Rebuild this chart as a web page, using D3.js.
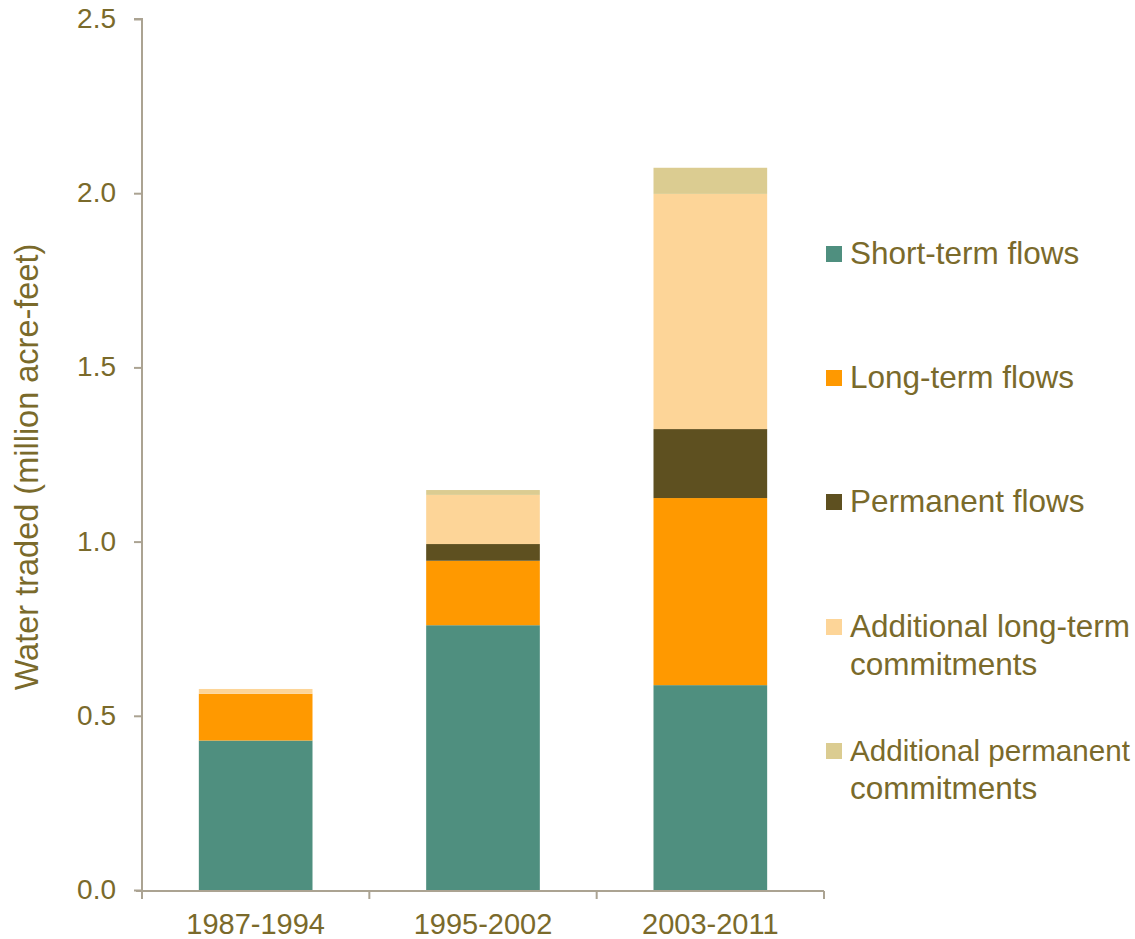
<!DOCTYPE html>
<html>
<head>
<meta charset="utf-8">
<script src="https://cdn.jsdelivr.net/npm/d3@7/dist/d3.min.js"></script>
<style>
  html, body { margin: 0; padding: 0; background: #fff; }
  text { font-family: "Liberation Sans", Arial, sans-serif; }
</style>
</head>
<body>
<svg id="chart" width="1135" height="939"></svg>
<script>
// Water traded by period, stacked by transfer type (million acre-feet)
const periods = ["1987-1994", "1995-2002", "2003-2011"];
const seriesNames = [
  "Short-term flows",
  "Long-term flows",
  "Permanent flows",
  "Additional long-term commitments",
  "Additional permanent commitments"
];
const shortTerm      = [0.429, 0.760, 0.588];
const longTerm       = [0.134, 0.185, 0.537];
const permanent      = [0.000, 0.048, 0.198];
const addLongTerm    = [0.014, 0.141, 0.675];
const addPermanent   = [0.000, 0.014, 0.075];
const yTicks = [0.0, 0.5, 1.0, 1.5, 2.0, 2.5];
const legendLines = [
  ["Short-term flows"],
  ["Long-term flows"],
  ["Permanent flows"],
  ["Additional long-term", "commitments"],
  ["Additional permanent", "commitments"]
];
const colors = ["#4F8F7F", "#FF9900", "#5E5020", "#FDD598", "#DBCC91"];

const textColor = "#7A6A2B";
const axisColor = "#ABA392";

const rows = periods.map((p, i) => ({
  period: p,
  [seriesNames[0]]: shortTerm[i],
  [seriesNames[1]]: longTerm[i],
  [seriesNames[2]]: permanent[i],
  [seriesNames[3]]: addLongTerm[i],
  [seriesNames[4]]: addPermanent[i]
}));

const stacked = d3.stack().keys(seriesNames)(rows);

const svg = d3.select("#chart");
const plot = { left: 142, right: 824, top: 19, bottom: 890 };

const x = d3.scaleBand().domain(periods).range([plot.left, plot.right]).paddingInner(0.5).paddingOuter(0.25);
const xOuter = d3.scaleBand().domain(periods).range([plot.left, plot.right]);
const y = d3.scaleLinear().domain([0, 2.5]).range([plot.bottom, plot.top]);

// stacked bars
svg.append("g")
  .selectAll("g")
  .data(stacked)
  .join("g")
  .attr("fill", (d, i) => colors[i])
  .selectAll("rect")
  .data(d => d)
  .join("rect")
  .attr("x", d => x(d.data.period))
  .attr("width", x.bandwidth())
  .attr("y", d => y(d[1]))
  .attr("height", d => Math.max(0, y(d[0]) - y(d[1])));

// y axis
const yAxis = svg.append("g").attr("transform", `translate(${plot.left},0)`)
  .call(d3.axisLeft(y).tickValues(yTicks).tickFormat(d3.format(".1f")).tickSize(8).tickPadding(18));
yAxis.select(".domain").attr("stroke", axisColor).attr("stroke-width", 2).attr("d", `M-8,${plot.top}H0V${plot.bottom + 1}`);
yAxis.selectAll(".tick line").attr("stroke", axisColor).attr("stroke-width", 2);
yAxis.selectAll(".tick text").attr("fill", textColor).attr("dy", "0.3em").style("font-size", "28px")
  .style("font-family", "'Liberation Sans', Arial, sans-serif");

// x axis with ticks at category boundaries
const xg = svg.append("g").attr("transform", `translate(0,${plot.bottom + 1})`);
xg.append("line")
  .attr("x1", plot.left - 6).attr("x2", plot.right)
  .attr("stroke", axisColor).attr("stroke-width", 2);
const boundaries = periods.map(p => xOuter(p)).concat([plot.right]);
xg.selectAll("line.tk").data(boundaries).join("line").attr("class", "tk")
  .attr("x1", d => d).attr("x2", d => d).attr("y1", 0).attr("y2", 8)
  .attr("stroke", axisColor).attr("stroke-width", 2);
xg.selectAll("text").data(periods).join("text")
  .attr("x", d => xOuter(d) + xOuter.bandwidth() / 2)
  .attr("y", 43)
  .attr("text-anchor", "middle")
  .attr("fill", textColor)
  .style("font-size", "29px")
  .text(d => d);

// y axis title
svg.append("text")
  .attr("transform", `translate(38,467) rotate(-90)`)
  .attr("text-anchor", "middle")
  .attr("fill", textColor)
  .style("font-size", "32.5px")
  .text("Water traded (million acre-feet)");

// legend
const legendY = [254, 378, 502, 627, 751];
const legendFont = 31.5;
const maxLine = 280;
const legend = svg.append("g");
legendLines.forEach((lines, i) => {
  const g = legend.append("g").attr("transform", `translate(826,${legendY[i]})`);
  g.append("rect").attr("x", 0).attr("y", -8).attr("width", 16).attr("height", 16).attr("fill", colors[i]);
  lines.forEach((ln, j) => {
    const t = g.append("text")
      .attr("x", 24)
      .attr("y", 10 + j * 38)
      .attr("fill", textColor)
      .style("font-size", legendFont + "px")
      .text(ln);
    // shrink any line that would run past the right edge
    const len = t.node().getComputedTextLength();
    if (len > maxLine) {
      t.style("font-size", (legendFont * maxLine / len).toFixed(2) + "px");
    }
  });
});
</script>
</body>
</html>
